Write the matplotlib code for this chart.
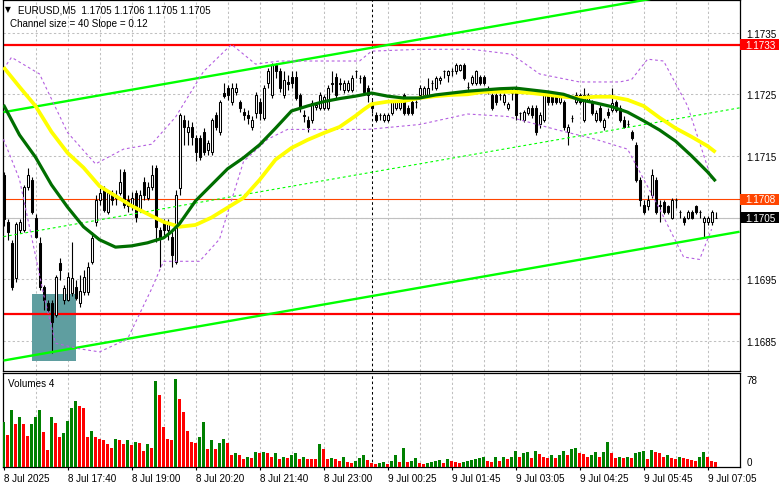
import matplotlib
matplotlib.use("Agg")
import matplotlib.pyplot as plt
from matplotlib.patches import Rectangle
import numpy as np

plt.rcParams['font.family'] = ['Liberation Sans', 'DejaVu Sans']

# ---------------- data (EURUSD M5) ----------------
open_ = [
1.17119,1.17043,1.17009,1.16952,1.17030,1.17030,1.17100,1.17111,1.17050,1.17009,
1.16938,1.16912,1.16912,1.16892,1.16977,1.16917,1.16917,1.16928,1.16938,1.16912,
1.16930,1.16930,1.16978,1.17042,1.17079,1.17095,1.17059,1.17090,1.17087,1.17090,
1.17124,1.17079,1.17068,1.17090,1.17063,1.17108,1.17082,1.17100,1.17131,1.17030,
1.17042,1.17030,1.17019,1.16978,1.17098,1.17209,1.17189,1.17197,1.17179,1.17179,
1.17188,1.17160,1.17157,1.17217,1.17189,1.17252,1.17261,1.17238,1.17254,1.17238,
1.17222,1.17217,1.17197,1.17220,1.17238,1.17212,1.17269,1.17249,1.17298,1.17287,
1.17249,1.17270,1.17278,1.17278,1.17249,1.17217,1.17209,1.17209,1.17230,1.17228,
1.17228,1.17228,1.17269,1.17278,1.17269,1.17257,1.17257,1.17257,1.17287,1.17277,
1.17278,1.17261,1.17236,1.17217,1.17217,1.17209,1.17209,1.17220,1.17228,1.17228,
1.17249,1.17228,1.17238,1.17238,1.17249,1.17249,1.17249,1.17269,1.17261,1.17274,
1.17287,1.17282,1.17287,1.17287,1.17290,1.17298,1.17262,1.17269,1.17269,1.17278,
1.17278,1.17259,1.17249,1.17249,1.17249,1.17238,1.17228,1.17252,1.17261,1.17220,
1.17209,1.17220,1.17228,1.17228,1.17201,1.17209,1.17249,1.17249,1.17249,1.17238,
1.17238,1.17188,1.17212,1.17238,1.17249,1.17209,1.17241,1.17238,1.17209,1.17228,
1.17197,1.17222,1.17225,1.17238,1.17228,1.17209,1.17201,1.17189,1.17168,1.17111,
1.17071,1.17068,1.17087,1.17111,1.17071,1.17076,1.17068,1.17050,1.17079,1.17059,
1.17050,1.17050,1.17059,1.17068,1.17059,1.17042,1.17042,1.17042,1.17050]

high = [
1.17124,1.17047,1.17014,1.17043,1.17047,1.17103,1.17131,1.17116,1.17055,1.17019,
1.16941,1.16917,1.16917,1.16957,1.16985,1.16941,1.16962,1.17011,1.16949,1.16957,
1.16965,1.16978,1.17027,1.17087,1.17098,1.17102,1.17095,1.17095,1.17095,1.17128,
1.17128,1.17087,1.17092,1.17095,1.17095,1.17115,1.17107,1.17136,1.17136,1.17035,
1.17047,1.17047,1.17027,1.17095,1.17220,1.17217,1.17209,1.17205,1.17184,1.17184,
1.17196,1.17176,1.17212,1.17222,1.17241,1.17269,1.17265,1.17269,1.17269,1.17241,
1.17228,1.17225,1.17214,1.17254,1.17244,1.17265,1.17293,1.17301,1.17301,1.17293,
1.17287,1.17282,1.17287,1.17287,1.17252,1.17225,1.17214,1.17241,1.17238,1.17254,
1.17249,1.17265,1.17287,1.17285,1.17277,1.17274,1.17274,1.17282,1.17290,1.17282,
1.17282,1.17265,1.17241,1.17222,1.17220,1.17220,1.17220,1.17241,1.17241,1.17241,
1.17252,1.17233,1.17241,1.17241,1.17265,1.17264,1.17277,1.17274,1.17280,1.17280,
1.17290,1.17290,1.17293,1.17301,1.17299,1.17301,1.17270,1.17282,1.17290,1.17282,
1.17282,1.17264,1.17252,1.17252,1.17252,1.17252,1.17238,1.17261,1.17264,1.17222,
1.17225,1.17231,1.17233,1.17233,1.17222,1.17257,1.17252,1.17252,1.17252,1.17252,
1.17241,1.17201,1.17217,1.17254,1.17252,1.17261,1.17252,1.17241,1.17225,1.17233,
1.17212,1.17228,1.17261,1.17241,1.17233,1.17214,1.17209,1.17192,1.17173,1.17115,
1.17079,1.17087,1.17129,1.17115,1.17079,1.17079,1.17071,1.17082,1.17082,1.17063,
1.17053,1.17063,1.17063,1.17071,1.17063,1.17053,1.17053,1.17063,1.17059]

low = [
1.17037,1.17014,1.16933,1.16946,1.17025,1.17027,1.17095,1.17056,1.17017,1.16933,
1.16900,1.16897,1.16831,1.16888,1.16949,1.16909,1.16915,1.16923,1.16917,1.16905,
1.16925,1.16925,1.16974,1.17037,1.17071,1.17059,1.17056,1.17071,1.17071,1.17087,
1.17066,1.17059,1.17063,1.17043,1.17059,1.17079,1.17079,1.17095,1.17011,1.16969,
1.17022,1.17014,1.16969,1.16974,1.17087,1.17168,1.17168,1.17168,1.17141,1.17144,
1.17152,1.17152,1.17152,1.17192,1.17184,1.17244,1.17241,1.17233,1.17249,1.17222,
1.17209,1.17201,1.17192,1.17212,1.17209,1.17209,1.17261,1.17244,1.17277,1.17254,
1.17244,1.17257,1.17261,1.17241,1.17222,1.17205,1.17189,1.17204,1.17225,1.17225,
1.17225,1.17225,1.17254,1.17244,1.17257,1.17252,1.17254,1.17254,1.17277,1.17269,
1.17249,1.17238,1.17220,1.17205,1.17209,1.17205,1.17205,1.17217,1.17225,1.17225,
1.17217,1.17217,1.17217,1.17228,1.17244,1.17246,1.17246,1.17257,1.17257,1.17267,
1.17277,1.17270,1.17280,1.17283,1.17287,1.17274,1.17254,1.17265,1.17265,1.17265,
1.17265,1.17251,1.17225,1.17233,1.17241,1.17233,1.17225,1.17241,1.17209,1.17209,
1.17205,1.17217,1.17212,1.17184,1.17196,1.17205,1.17233,1.17233,1.17235,1.17235,
1.17192,1.17168,1.17205,1.17235,1.17235,1.17205,1.17238,1.17217,1.17205,1.17205,
1.17192,1.17212,1.17222,1.17222,1.17205,1.17196,1.17197,1.17176,1.17107,1.17069,
1.17056,1.17063,1.17082,1.17056,1.17042,1.17056,1.17056,1.17047,1.17066,1.17050,
1.17038,1.17047,1.17047,1.17055,1.17050,1.17019,1.17038,1.17038,1.17050]

close = [
1.17047,1.17027,1.16938,1.17040,1.17042,1.17100,1.17119,1.17059,1.17019,1.16938,
1.16917,1.16900,1.16881,1.16954,1.16965,1.16936,1.16954,1.16952,1.16920,1.16930,
1.16954,1.16970,1.17017,1.17079,1.17090,1.17063,1.17090,1.17079,1.17082,1.17107,
1.17071,1.17068,1.17082,1.17051,1.17087,1.17087,1.17100,1.17119,1.17035,1.17017,
1.17030,1.17042,1.16990,1.17087,1.17217,1.17197,1.17197,1.17181,1.17157,1.17149,
1.17157,1.17171,1.17209,1.17197,1.17238,1.17248,1.17249,1.17261,1.17261,1.17228,
1.17217,1.17212,1.17209,1.17249,1.17220,1.17261,1.17287,1.17298,1.17287,1.17261,
1.17274,1.17267,1.17269,1.17244,1.17228,1.17215,1.17197,1.17236,1.17233,1.17249,
1.17246,1.17261,1.17267,1.17249,1.17267,1.17269,1.17269,1.17277,1.17287,1.17277,
1.17254,1.17249,1.17228,1.17209,1.17217,1.17217,1.17217,1.17238,1.17238,1.17238,
1.17220,1.17220,1.17220,1.17238,1.17261,1.17261,1.17261,1.17269,1.17277,1.17277,
1.17287,1.17287,1.17287,1.17298,1.17298,1.17277,1.17262,1.17278,1.17287,1.17269,
1.17269,1.17257,1.17228,1.17238,1.17249,1.17249,1.17235,1.17252,1.17217,1.17220,
1.17222,1.17228,1.17217,1.17189,1.17217,1.17252,1.17238,1.17238,1.17238,1.17249,
1.17197,1.17197,1.17212,1.17249,1.17238,1.17249,1.17249,1.17220,1.17220,1.17209,
1.17209,1.17217,1.17236,1.17225,1.17209,1.17197,1.17201,1.17179,1.17111,1.17079,
1.17059,1.17079,1.17119,1.17059,1.17068,1.17059,1.17059,1.17079,1.17079,1.17059,
1.17042,1.17059,1.17050,1.17059,1.17059,1.17050,1.17050,1.17059,1.17050]

volume = [
40,28,50,38,44,38,27,38,44,50, 31,15,44,39,26,30,41,52,58,54,
52,26,32,26,25,24,20,17,25,24, 20,24,19,22,21,14,20,17,76,64,
35,25,24,78,60,49,32,22,21,26, 40,16,24,16,21,25,21,10,12,10,
7,9,8,13,12,13,12,9,12,7, 9,8,10,12,7,9,7,7,7,20,
16,7,8,7,5,9,4,3,5,8, 10,6,3,2,3,4,2,5,10,4,
17,4,5,8,3,2,3,4,5,6, 3,7,5,4,3,4,5,6,7,8,
9,5,4,9,5,9,7,9,14,9, 12,13,8,14,11,9,8,10,8,10,
14,10,16,17,12,11,9,10,13,9, 13,22,12,8,9,8,9,8,12,13,
14,7,15,13,12,9,10,8,7,9, 8,7,6,5,9,13,9,5,4]

# moving averages (sampled at bar indices)
ma_green_bars = [0,4,8,12,16,20,24,28,32,36,40,42,44,48,52,56,60,64,68,72,76,80,84,88,92,96,
                 100,104,108,112,116,120,124,128,132,136,140,144,148,152,156,160,164,168,172,176,178]
ma_green = [1.17233,1.17184,1.17148,1.17103,1.17067,1.17035,1.17014,1.17002,1.17004,1.17009,1.17017,
            1.17027,1.17040,1.17077,1.17103,1.17129,1.17147,1.17168,1.17195,1.17223,1.17231,1.17238,
            1.17243,1.17247,1.17252,1.17247,1.17244,1.17244,1.17249,1.17252,1.17255,1.17257,1.17259,
            1.17260,1.17257,1.17254,1.17250,1.17241,1.17236,1.17230,1.17221,1.17207,1.17192,1.17174,
            1.17150,1.17124,1.17109]
ma_yellow_bars = [0,4,8,12,16,20,24,28,32,36,40,44,48,52,56,60,64,68,72,76,80,84,88,90,92,96,
                  100,104,108,112,116,120,124,128,132,136,140,144,148,152,156,160,164,168,172,176,178]
ma_yellow = [1.17294,1.17262,1.17231,1.17189,1.17155,1.17131,1.17101,1.17085,1.17069,1.17056,1.17043,
             1.17035,1.17038,1.17050,1.17066,1.17082,1.17111,1.17144,1.17163,1.17176,1.17187,1.17197,
             1.17215,1.17225,1.17234,1.17238,1.17239,1.17244,1.17247,1.17249,1.17250,1.17254,1.17254,
             1.17254,1.17252,1.17249,1.17246,1.17244,1.17246,1.17246,1.17241,1.17231,1.17212,1.17195,
             1.17181,1.17166,1.17156]

# envelope bands (purple, dashed)
band_up_bars = [0,2,9,16,23,30,37,43,50,57,63,69,79,89,92,104,117,127,134,144,154,157,161,165,171,177]
band_up = [1.17291,1.17310,1.17283,1.17188,1.17137,1.17161,1.17169,1.17213,1.17287,1.17331,1.17299,
           1.17304,1.17304,1.17304,1.17320,1.17323,1.17323,1.17315,1.17283,1.17270,1.17270,1.17274,
           1.17307,1.17304,1.17231,1.17112]
band_lo_bars = [0,4,10,13,19,24,31,37,40,49,54,60,66,71,91,104,116,126,138,148,156,164,170,174,177]
band_lo = [1.17177,1.17112,1.16926,1.16846,1.16837,1.16832,1.16853,1.16934,1.16979,1.16979,1.17015,
           1.17141,1.17177,1.17193,1.17193,1.17201,1.17218,1.17214,1.17193,1.17177,1.17161,1.17064,
           1.16986,1.16982,1.17031]

# regression channel (start / end bar and prices)
chan_bars = [0, 184]
chan_upper = [1.17221, 1.17430]
chan_mid = [1.17019, 1.17228]
chan_lower = [1.16818, 1.17027]

# horizontal levels
level_res = 1.17330
level_mid = 1.17080
level_sup = 1.16893
bid = 1.17050

# buy zone rectangle
zone_bars = [7, 18]
zone_prices = [1.16818, 1.16926]

price_ticks = [1.1685, 1.1695, 1.1705, 1.1715, 1.1725, 1.1735]
price_tick_labels = ['1.1685', '1.1695', '', '1.1715', '1.1725', '1.1735']
time_bars = [0, 16, 32, 48, 64, 80, 96, 112, 128, 144, 160, 176]
time_labels = ['8 Jul 2025', '8 Jul 17:40', '8 Jul 19:00', '8 Jul 20:20', '8 Jul 21:40',
               '8 Jul 23:00', '9 Jul 00:25', '9 Jul 01:45', '9 Jul 03:05', '9 Jul 04:25',
               '9 Jul 05:45', '9 Jul 07:05']
day_sep_bar = 92
title = 'EURUSD,M5  1.1705 1.1706 1.1705 1.1705'
channel_text = 'Channel size = 40 Slope = 0.12'
vol_title = 'Volumes 4'

# ---------------- figure ----------------
W, H = 781, 489
fig = plt.figure(figsize=(W / 100, H / 100), dpi=100)
fig.patch.set_facecolor('white')


def add_axes_px(x0, y0, x1, y1):
    return fig.add_axes([x0 / W, 1 - y1 / H, (x1 - x0) / W, (y1 - y0) / H])


ax = add_axes_px(2.5, 1.0, 740.0, 372.0)
axv = add_axes_px(2.5, 373.7, 740.0, 467.7)

n = min(len(open_), len(high), len(low), len(close), len(volume))
o = np.array(open_[:n]); h = np.array(high[:n]); l = np.array(low[:n]); c = np.array(close[:n])
v = np.array(volume[:n])
xs = np.arange(n)

for a in (ax, axv):
    a.set_xlim(-0.25, 184.1)
    a.set_facecolor('white')
    for s in a.spines.values():
        s.set_color('black')
        s.set_linewidth(0.9)
ax.set_ylim(1.16801, 1.17403)
axv.set_ylim(0, 83.6)

GRID = '#c0c0c0'
gdash = (0, (2.2, 2.2))
for b in range(8, 185, 8):
    ax.axvline(b, color=GRID, lw=0.75, ls=gdash, zorder=0)
    axv.axvline(b, color=GRID, lw=0.75, ls=gdash, zorder=0)
for p in price_ticks:
    ax.axhline(p, color=GRID, lw=0.75, ls=gdash, zorder=0)

# day separator
for a in (ax, axv):
    a.axvline(day_sep_bar, color='black', lw=0.75, ls=(0, (2.5, 2.5)), zorder=1)

# zone rectangle
ax.add_patch(Rectangle((zone_bars[0], zone_prices[0]), zone_bars[1] - zone_bars[0],
                       zone_prices[1] - zone_prices[0], facecolor='#5f9ea0', edgecolor='none', zorder=1))

# horizontal levels
ax.axhline(bid, color='#c0c0c0', lw=0.8, zorder=1.5)
ax.axhline(level_mid, color='#ff4500', lw=0.8, zorder=1.6)
ax.axhline(level_res, color='#ff0000', lw=1.6, zorder=1.6)
ax.axhline(level_sup, color='#ff0000', lw=1.6, zorder=1.6)

# candles
wick_lo = np.minimum(l, np.minimum(o, c))
wick_hi = np.maximum(h, np.maximum(o, c))
ax.vlines(xs, wick_lo, wick_hi, color='black', lw=0.8, zorder=3)
up = c >= o
ax.bar(xs, np.abs(c - o), bottom=np.minimum(o, c), width=0.5,
       color=np.where(up, 'white', 'black'), edgecolor='black', linewidth=0.75, zorder=4)

# channel
ax.plot(chan_bars, chan_upper, color='#00ff00', lw=1.7, zorder=5, solid_capstyle='butt')
ax.plot(chan_bars, chan_lower, color='#00ff00', lw=1.7, zorder=5, solid_capstyle='butt')
ax.plot(chan_bars, chan_mid, color='#00ff00', lw=0.8, ls=(0, (2.5, 2.5)), zorder=5)

# bands
ax.plot(band_up_bars, band_up, color='#b45fe0', lw=0.8, ls=(0, (2.5, 2.5)), zorder=6)
ax.plot(band_lo_bars, band_lo, color='#b45fe0', lw=0.8, ls=(0, (2.5, 2.5)), zorder=6)

# moving averages
ax.plot(ma_yellow_bars, ma_yellow, color='#ffff00', lw=2.7, zorder=7, solid_capstyle='butt')
ax.plot(ma_green_bars, ma_green, color='#006e00', lw=2.3, zorder=7.5, solid_capstyle='butt')

# price axis
ax.yaxis.tick_right()
ax.set_yticks(price_ticks)
ax.set_yticklabels(price_tick_labels)
ax.tick_params(axis='y', length=0, pad=4.8, labelsize=7.1, colors='black')
ax.tick_params(axis='x', length=0, labelbottom=False)

# price boxes
ytr = ax.get_yaxis_transform()
box_w = 38.5 / 737.5
box_h = 11.0 / 61650.0
for lvl, col in ((level_res, '#ff0000'), (level_mid, '#ff4500'), (bid, '#000000')):
    ax.add_patch(Rectangle((1.0, lvl - box_h / 2), box_w, box_h, transform=ytr,
                           facecolor=col, edgecolor='none', clip_on=False, zorder=20))
    ax.text(1.0068, lvl, f'{lvl:.4f}', transform=ytr, color='white', fontsize=7.1,
            va='center', ha='left', clip_on=False, zorder=21)

# volumes
vcol = ['#008000'] + ['#008000' if v[i] > v[i - 1] else '#ff0000' for i in range(1, n)]
axv.bar(xs, v, width=0.72, color=vcol, edgecolor='none', zorder=3)
axv.yaxis.tick_right()
axv.set_yticks([0, 78])
axv.set_yticklabels(['0', '78'])
axv.tick_params(axis='y', length=0, pad=4.8, labelsize=7.1)
lbls = axv.get_yticklabels()
lbls[0].set_va('bottom')
axv.set_xticks(time_bars)
axv.set_xticklabels(time_labels, ha='left')
axv.tick_params(axis='x', length=2, pad=2.5, labelsize=7.1, colors='black')

# texts
fig.text(5 / W, 1 - 9.5 / H, '\u25bc', fontsize=5.5, family='DejaVu Sans', va='center', ha='left')
fig.text(18 / W, 1 - 10.5 / H, title, fontsize=7.1, va='center', ha='left')
fig.text(10 / W, 1 - 24 / H, channel_text, fontsize=7.1, va='center', ha='left')
fig.text(8 / W, 1 - 384 / H, vol_title, fontsize=7.1, va='center', ha='left')

fig.savefig('out.png', dpi=100, facecolor='white')
